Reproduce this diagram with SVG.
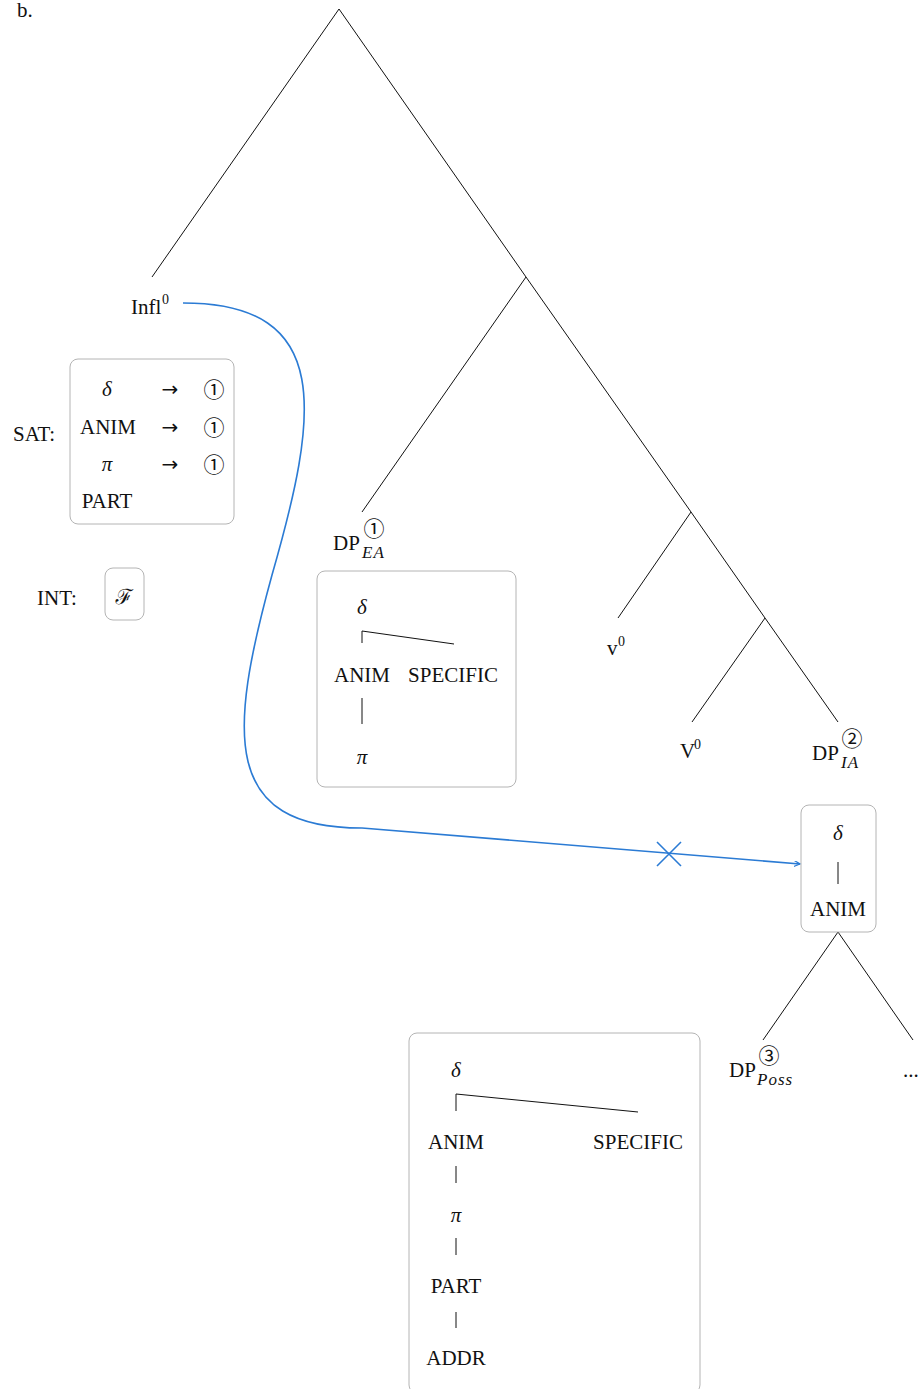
<svg xmlns="http://www.w3.org/2000/svg" width="923" height="1389" viewBox="0 0 923 1389">
<style>
text{font-family:"Liberation Serif","Noto Sans CJK SC",serif;font-size:21px;fill:#111}
.c{text-anchor:middle}
.it{font-style:italic}
.sup{font-size:14px}
.sub{font-size:17px;font-style:italic;letter-spacing:1px}
.circ{font-family:"Noto Sans CJK SC","DejaVu Sans",sans-serif;font-size:21px}
.arrow{font-family:"DejaVu Sans",sans-serif;font-size:20px}
.box{fill:none;stroke:#b4b4b4;stroke-width:1}
.ln{stroke:#111;stroke-width:1;fill:none}
.blue{stroke:#2b7bd4;stroke-width:1.6;fill:none}
</style>
<defs>
<marker id="arr" markerWidth="8" markerHeight="8" refX="6" refY="3" orient="auto" markerUnits="userSpaceOnUse">
<path d="M0,0 L6,3 L0,6" fill="none" stroke="#2b7bd4" stroke-width="1.3"/>
</marker>
</defs>
<rect width="923" height="1389" fill="#fff"/>
<text x="17" y="17">b.</text>
<g id="connectors">
<path class="ln" d="M152,277 L339,9 L526,277 L691,512 L765,618 L838,722"/>
<path class="ln" d="M526,277 L362,512"/>
<path class="ln" d="M691,512 L618,618"/>
<path class="ln" d="M765,618 L692,722"/>
<path class="ln" d="M763,1040 L838,932 L913,1040"/>
<path class="blue" marker-end="url(#arr)" d="M183,303 C 335,303 318,415 272,575 C 228,735 222,828 362,828 L 800,864"/>
<path class="blue" d="M657,842 L681,866 M657,866 L681,842"/>
</g>
<g id="infl">
<text x="131" y="314">Infl</text>
<text class="sup" x="162" y="304">0</text>
</g>
<g id="sat">
<text x="13" y="441">SAT:</text>
<rect class="box" x="70" y="359" width="164" height="165" rx="8"/>
<text class="c it" x="107" y="396">δ</text>
<text class="c arrow" x="170" y="396">→</text>
<text class="c circ" x="214" y="397">①</text>
<text class="c" x="108" y="434">ANIM</text>
<text class="c arrow" x="170" y="434">→</text>
<text class="c circ" x="214" y="435">①</text>
<text class="c it" x="107" y="471">π</text>
<text class="c arrow" x="170" y="471">→</text>
<text class="c circ" x="214" y="472">①</text>
<text class="c" x="107" y="508">PART</text>
</g>
<g id="int">
<text x="37" y="605">INT:</text>
<rect class="box" x="105" y="568" width="39" height="52" rx="8"/>
<text class="c it" x="124" y="604" style="font-family:'DejaVu Serif','Noto Sans',serif;font-size:21px">ℱ</text>
</g>
<g id="dp-ea">
<text x="333" y="550">DP</text>
<text class="c circ" x="374" y="536">①</text>
<text class="sub" x="362" y="558">EA</text>
</g>
<g id="dp-ea-box">
<rect class="box" x="317" y="571" width="199" height="216" rx="8"/>
<text class="c it" x="362" y="614">δ</text>
<path class="ln" d="M362,643 L362,631 L454,644"/>
<text class="c" x="362" y="682">ANIM</text>
<text class="c" x="453" y="682">SPECIFIC</text>
<path class="ln" d="M362,698 L362,724"/>
<text class="c it" x="362" y="764">π</text>
</g>
<g id="v-small">
<text x="607" y="655">v</text>
<text class="sup" x="618" y="646">0</text>
</g>
<g id="v-big">
<text x="680" y="758">V</text>
<text class="sup" x="694" y="749">0</text>
</g>
<g id="dp-ia">
<text x="812" y="760">DP</text>
<text class="c circ" x="852" y="746">②</text>
<text class="sub" x="841" y="768">IA</text>
</g>
<g id="anim-box">
<rect class="box" x="801" y="805" width="75" height="127" rx="8"/>
<text class="c it" x="838" y="840">δ</text>
<path class="ln" d="M838,862 L838,884"/>
<text class="c" x="838" y="916">ANIM</text>
</g>
<g id="dp-poss">
<text x="729" y="1077">DP</text>
<text class="c circ" x="769" y="1063">③</text>
<text class="sub" x="757" y="1085">Poss</text>
</g>
<g id="dots">
<text x="903" y="1077">...</text>
</g>
<g id="big-box">
<rect class="box" x="409" y="1033" width="291" height="360" rx="8"/>
<text class="c it" x="456" y="1077">δ</text>
<path class="ln" d="M456,1111 L456,1094 L638,1112"/>
<text class="c" x="456" y="1149">ANIM</text>
<text class="c" x="638" y="1149">SPECIFIC</text>
<path class="ln" d="M456,1166 L456,1183"/>
<text class="c it" x="456" y="1222">π</text>
<path class="ln" d="M456,1238 L456,1255"/>
<text class="c" x="456" y="1293">PART</text>
<path class="ln" d="M456,1312 L456,1328"/>
<text class="c" x="456" y="1365">ADDR</text>
</g>
</svg>
